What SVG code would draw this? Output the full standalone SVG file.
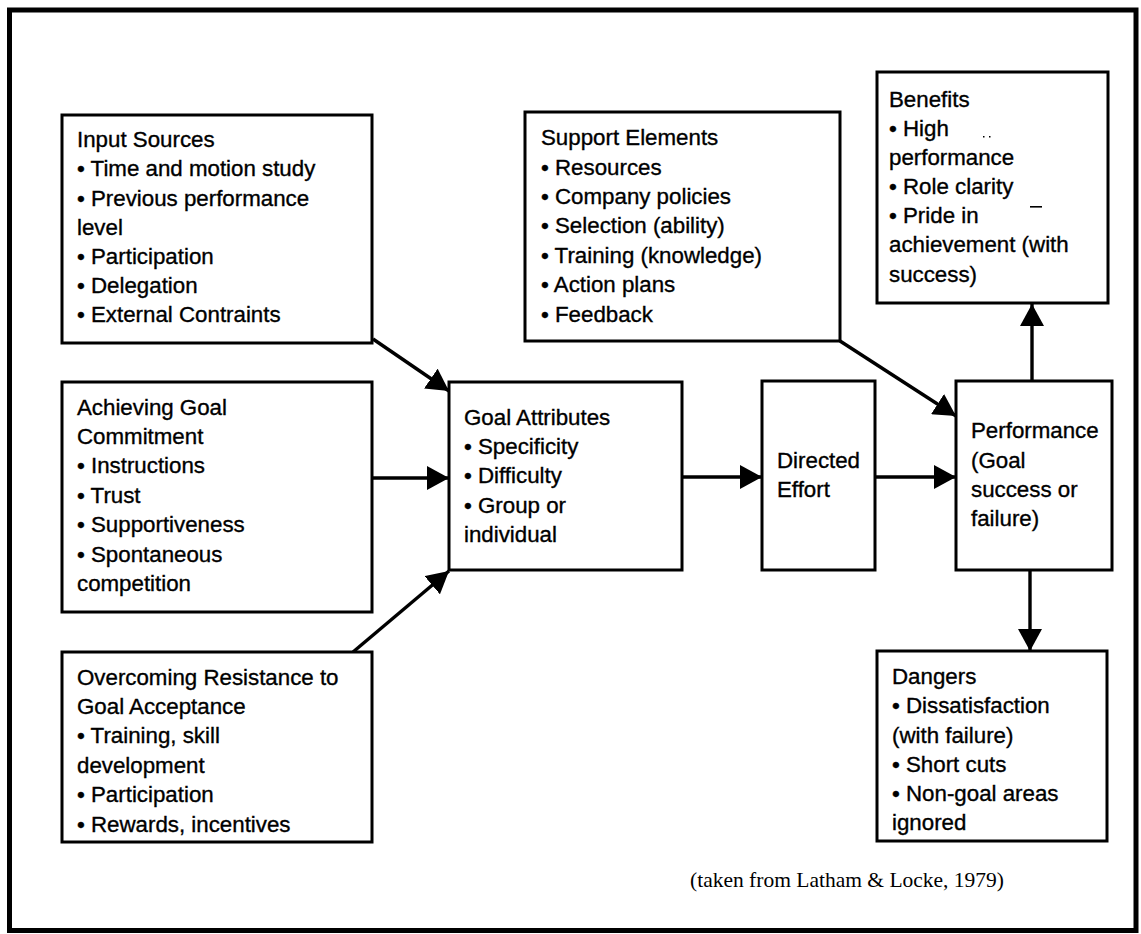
<svg xmlns="http://www.w3.org/2000/svg" width="1141" height="934" viewBox="0 0 1141 934">
  <style>
    .box { fill: #fff; stroke: #000; stroke-width: 3; }
    .lbl { font-family: "Liberation Sans", Arial, Helvetica, sans-serif; font-size: 22.3px; fill: #000; stroke: #000; stroke-width: 0.35; }
    .cite { font-family: "Liberation Serif", "Times New Roman", serif; font-size: 21.5px; fill: #000; }
    .conn { stroke: #000; stroke-width: 3.4; fill: none; marker-end: url(#arrow); }
  </style>
  <defs>
    <marker id="arrow" markerUnits="userSpaceOnUse" markerWidth="24" markerHeight="24" refX="22" refY="12" orient="auto">
      <path d="M0,0 L22,12 L0,24 Z" fill="#000"/>
    </marker>
  </defs>

  <rect width="1141" height="934" fill="#fff"/>
  <!-- outer frame -->
  <rect x="9.5" y="10" width="1126.5" height="920.5" fill="none" stroke="#000" stroke-width="5"/>

  <!-- connectors -->
  <g id="connectors">
    <line class="conn" x1="373" y1="339" x2="449" y2="391"/>
    <line class="conn" x1="373" y1="478" x2="449" y2="478"/>
    <line class="conn" x1="353" y1="652" x2="449" y2="571"/>
    <line class="conn" x1="683" y1="477" x2="762" y2="477"/>
    <line class="conn" x1="876" y1="477" x2="956" y2="477"/>
    <line class="conn" x1="840" y1="341" x2="956" y2="416"/>
    <line class="conn" x1="1032" y1="381" x2="1032" y2="304"/>
    <line class="conn" x1="1030" y1="570" x2="1030" y2="651"/>
  </g>

  <g id="input-sources">
    <rect class="box" x="62" y="115" width="310" height="228"/>
    <text class="lbl">
      <tspan x="77" y="147">Input Sources</tspan>
      <tspan x="77" y="176">• Time and motion study</tspan>
      <tspan x="77" y="206">• Previous performance</tspan>
      <tspan x="77" y="235">level</tspan>
      <tspan x="77" y="264">• Participation</tspan>
      <tspan x="77" y="293">• Delegation</tspan>
      <tspan x="77" y="322">• External Contraints</tspan>
    </text>
  </g>

  <g id="goal-commitment">
    <rect class="box" x="62" y="382" width="310" height="230"/>
    <text class="lbl">
      <tspan x="77" y="415">Achieving Goal</tspan>
      <tspan x="77" y="444">Commitment</tspan>
      <tspan x="77" y="473">• Instructions</tspan>
      <tspan x="77" y="503">• Trust</tspan>
      <tspan x="77" y="532">• Supportiveness</tspan>
      <tspan x="77" y="562">• Spontaneous</tspan>
      <tspan x="77" y="591">competition</tspan>
    </text>
  </g>

  <g id="resistance">
    <rect class="box" x="62" y="652" width="310" height="190"/>
    <text class="lbl">
      <tspan x="77" y="685">Overcoming Resistance to</tspan>
      <tspan x="77" y="714">Goal Acceptance</tspan>
      <tspan x="77" y="743">• Training, skill</tspan>
      <tspan x="77" y="773">development</tspan>
      <tspan x="77" y="802">• Participation</tspan>
      <tspan x="77" y="832">• Rewards, incentives</tspan>
    </text>
  </g>

  <g id="support-elements">
    <rect class="box" x="525" y="112" width="315" height="229"/>
    <text class="lbl">
      <tspan x="541" y="145">Support Elements</tspan>
      <tspan x="541" y="175">• Resources</tspan>
      <tspan x="541" y="204">• Company policies</tspan>
      <tspan x="541" y="233">• Selection (ability)</tspan>
      <tspan x="541" y="263">• Training (knowledge)</tspan>
      <tspan x="541" y="292">• Action plans</tspan>
      <tspan x="541" y="322">• Feedback</tspan>
    </text>
  </g>

  <g id="goal-attributes">
    <rect class="box" x="449" y="382" width="233" height="188"/>
    <text class="lbl">
      <tspan x="464" y="425">Goal Attributes</tspan>
      <tspan x="464" y="454">• Specificity</tspan>
      <tspan x="464" y="483">• Difficulty</tspan>
      <tspan x="464" y="513">• Group or</tspan>
      <tspan x="464" y="542">individual</tspan>
    </text>
  </g>

  <g id="directed-effort">
    <rect class="box" x="762" y="381" width="113" height="189"/>
    <text class="lbl">
      <tspan x="777" y="468">Directed</tspan>
      <tspan x="777" y="497">Effort</tspan>
    </text>
  </g>

  <g id="performance">
    <rect class="box" x="956" y="381" width="156" height="189"/>
    <text class="lbl">
      <tspan x="971" y="438">Performance</tspan>
      <tspan x="971" y="468">(Goal</tspan>
      <tspan x="971" y="497">success or</tspan>
      <tspan x="971" y="526">failure)</tspan>
    </text>
  </g>

  <g id="benefits">
    <rect class="box" x="877" y="72" width="231" height="231"/>
    <text class="lbl">
      <tspan x="889" y="107">Benefits</tspan>
      <tspan x="889" y="136">• High</tspan>
      <tspan x="889" y="165">performance</tspan>
      <tspan x="889" y="194">• Role clarity</tspan>
      <tspan x="889" y="223">• Pride in</tspan>
      <tspan x="889" y="252">achievement (with</tspan>
      <tspan x="889" y="282">success)</tspan>
    </text>
    <!-- stray print marks -->
    <rect x="983" y="136" width="1.5" height="1.5" fill="#000"/>
    <rect x="989" y="136" width="1.5" height="1.5" fill="#000"/>
    <rect x="1030" y="206" width="12" height="1.6" fill="#000"/>
  </g>

  <g id="dangers">
    <rect class="box" x="877" y="651" width="230" height="190"/>
    <text class="lbl">
      <tspan x="892" y="684">Dangers</tspan>
      <tspan x="892" y="713">• Dissatisfaction</tspan>
      <tspan x="892" y="743">(with failure)</tspan>
      <tspan x="892" y="772">• Short cuts</tspan>
      <tspan x="892" y="801">• Non-goal areas</tspan>
      <tspan x="892" y="830">ignored</tspan>
    </text>
  </g>

  <text class="cite" x="690" y="887">(taken from Latham &amp; Locke, 1979)</text>
</svg>
